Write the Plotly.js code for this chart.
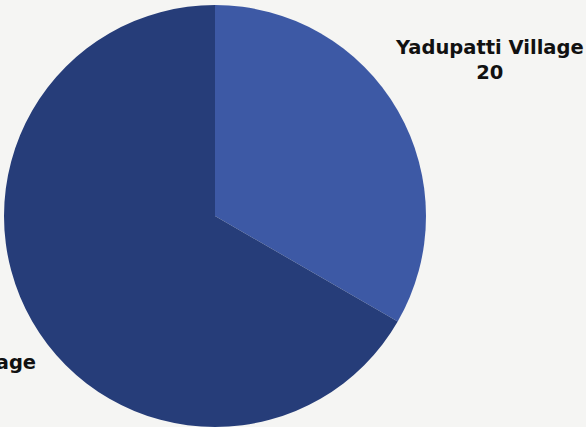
<!DOCTYPE html>
<html>
<head>
<meta charset="utf-8">
<script src="https://cdn.plot.ly/plotly-3.0.1.min.js"></script>
<style>html,body{margin:0;padding:0;background:#f5f5f3;}#chart{width:586px;height:427px;}</style>
</head>
<body>
<div id="chart"></div>
<script>
const labels = ["Yadupatti Village", "Kalyanpur Village"];
const values = [20, 40];
const colors = ["#3d59a5", "#263d79"];

const trace = {
  type: "pie",
  labels: labels,
  values: values,
  sort: false,
  direction: "clockwise",
  rotation: 0,
  marker: {colors: colors, line: {width: 0}},
  textinfo: "none",
  hoverinfo: "label+value",
  showlegend: false,
  domain: {x: [4/586, 426/586], y: [0, 1 - 5/427]}
};

const labelFont = {family: "DejaVu Sans, sans-serif", size: 19.5, color: "#111111", weight: 700};
const annotations = [
  {text: labels[0] + "<br>" + values[0], xref: "paper", yref: "paper",
   x: 489/586, y: 1 - 60/427, xanchor: "center", yanchor: "middle",
   showarrow: false, align: "center", font: labelFont},
  {text: labels[1] + "<br>" + values[1], xref: "paper", yref: "paper",
   x: 38/586, y: 1 - 375/427, xanchor: "right", yanchor: "middle",
   showarrow: false, align: "center", font: labelFont}
];

Plotly.newPlot("chart", [trace], {
  width: 586, height: 427,
  margin: {l: 0, r: 0, t: 0, b: 0},
  paper_bgcolor: "#f5f5f3",
  plot_bgcolor: "#f5f5f3",
  annotations: annotations
}, {displayModeBar: false, staticPlot: true});
</script>
</body>
</html>
